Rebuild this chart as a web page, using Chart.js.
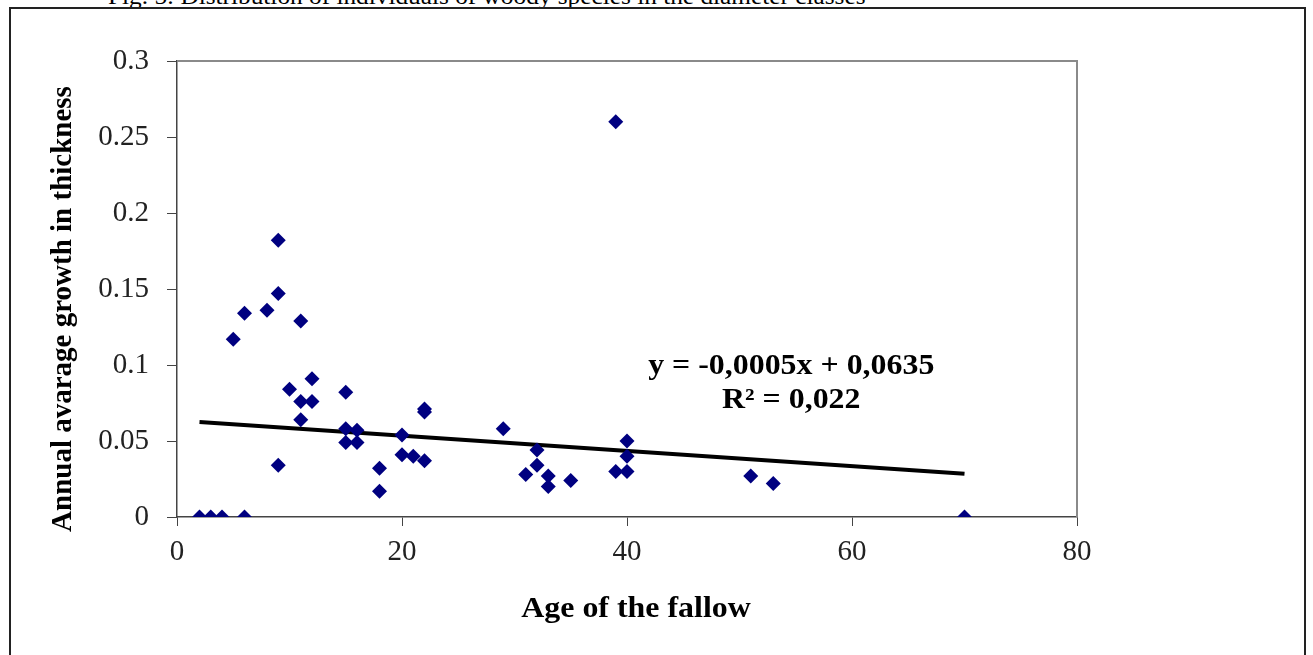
<!DOCTYPE html>
<html>
<head>
<meta charset="utf-8">
<script src="https://cdn.jsdelivr.net/npm/chart.js@4.4.1/dist/chart.umd.min.js"></script>
<style>
  html, body { margin: 0; padding: 0; background: #fff; }
  body { width: 1313px; height: 655px; position: relative; overflow: hidden; }
  #caption {
    position: absolute; left: 108px; top: -16px;
    font: 23px "Liberation Serif", "Times New Roman", serif; color: #000; white-space: nowrap;
    transform: scaleX(1.1); transform-origin: left top;
  }
  #frame {
    position: absolute; left: 9px; top: 7px; width: 1297px; height: 700px;
    border: 2px solid #222; box-sizing: border-box;
  }
  #wrap { position: absolute; left: 0; top: 0; width: 1313px; height: 655px; }
</style>
</head>
<body>
<div id="caption">Fig. 5: Distribution of individuals of woody species in the diameter classes</div>
<div id="frame"></div>
<div id="wrap"><canvas id="scatterChart" width="1313" height="655"></canvas></div>
<script>
// fallow age (years) and annual average growth in thickness
const ages = [
  2, 3, 4, 6, 5, 6, 8, 9, 9, 9, 10, 11, 11, 11, 12, 12,
  15, 15, 15, 16, 16, 18, 18, 20, 20, 21, 22, 22, 22,
  29, 31, 32, 32, 33, 33, 35, 39, 39, 40, 40, 40, 51, 53, 70,
];
const growth = [
  0, 0, 0, 0, 0.117, 0.134, 0.136, 0.182, 0.147, 0.034, 0.084, 0.129, 0.076, 0.064, 0.091, 0.076,
  0.082, 0.058, 0.049, 0.057, 0.049, 0.032, 0.017, 0.054, 0.041, 0.040, 0.069, 0.071, 0.037,
  0.058, 0.028, 0.044, 0.034, 0.027, 0.020, 0.024, 0.260, 0.030, 0.050, 0.040, 0.030, 0.027, 0.022, 0,
];
const yTickLabels = ["0", "0.05", "0.1", "0.15", "0.2", "0.25", "0.3"];
const xTickLabels = ["0", "20", "40", "60", "80"];
const xTitle = "Age of the fallow";
const yTitle = "Annual avarage growth in thickness";

// linear trend line (from the chart label)
const trendSlope = -0.0005;
const trendIntercept = 0.0635;
const trendLabel = ["y = -0,0005x + 0,0635", "R² = 0,022"];

const points = ages.map((a, i) => ({ x: a, y: growth[i] }));
const xMin = Math.min(...ages);
const xMax = Math.max(...ages);
const trendPoints = [xMin, xMax].map((a) => ({ x: a, y: trendSlope * a + trendIntercept }));

Chart.defaults.font.family = '"Liberation Serif", "Times New Roman", serif';
Chart.defaults.color = "#222";

const boldFont = 'bold 29px "Liberation Serif", "Times New Roman", serif';
const stretch = 1.1; // text in the picture is a bit wide

// draws text a little wider than the font, like the picture
function wideText(ctx, text, x, y) {
  ctx.save();
  ctx.translate(x, y);
  ctx.scale(stretch, 1);
  ctx.fillText(text, 0, 0);
  ctx.restore();
}

// gray frame round the plot area, axis titles and equation text
const plotFrame = {
  id: "plotFrame",
  beforeDatasetsDraw(chart) {
    const { ctx, chartArea: a } = chart;
    ctx.save();
    ctx.strokeStyle = "#8a8a8a";
    ctx.lineWidth = 2;
    ctx.beginPath();
    ctx.moveTo(a.left, a.top);
    ctx.lineTo(a.right, a.top);
    ctx.lineTo(a.right, a.bottom);
    ctx.stroke();
    ctx.restore();
  },
  afterDraw(chart) {
    const { ctx, scales, chartArea: a } = chart;
    ctx.save();
    ctx.font = boldFont;
    ctx.fillStyle = "#000";
    ctx.textAlign = "center";
    ctx.textBaseline = "middle";

    // trend line equation
    const cx = scales.x.getPixelForValue(54.6);
    const cy = scales.y.getPixelForValue(0.1);
    wideText(ctx, trendLabel[0], cx, cy + 2);
    wideText(ctx, trendLabel[1], cx, cy + 36);

    // x axis title
    wideText(ctx, xTitle, (a.left + a.right) / 2 + 9, a.bottom + 93);

    // y axis title
    ctx.translate(64, (a.top + a.bottom) / 2 + 20);
    ctx.rotate(-Math.PI / 2);
    ctx.fillText(yTitle, 0, 0);
    ctx.restore();
  },
};

const ctx = document.getElementById("scatterChart").getContext("2d");
const myChart = new Chart(ctx, {
  type: "scatter",
  data: {
    datasets: [
      {
        data: points,
        backgroundColor: "#000080",
        borderColor: "#000080",
        pointStyle: "rectRot",
        pointRadius: 7.5,
        pointBorderWidth: 0,
      },
      {
        type: "line",
        data: trendPoints,
        borderColor: "#000",
        borderWidth: 4,
        pointRadius: 0,
        fill: false,
      },
    ],
  },
  options: {
    responsive: false,
    animation: false,
    devicePixelRatio: 1,
    layout: {
      padding: { left: 40, right: 236, top: 61, bottom: 20 },
    },
    plugins: {
      legend: { display: false },
      tooltip: { enabled: false },
    },
    scales: {
      x: {
        type: "linear",
        min: 0,
        max: 80,
        ticks: {
          stepSize: 20,
          padding: 9,
          color: "#222",
          font: { size: 29 },
          callback: (v) => xTickLabels[v / 20],
        },
        grid: { drawOnChartArea: false, tickLength: 9, color: "#444" },
        border: { color: "#444", width: 1.5 },
        afterFit: (scale) => {
          scale.height = 118;
        },
      },
      y: {
        min: 0,
        max: 0.3,
        ticks: {
          stepSize: 0.05,
          padding: 18,
          color: "#222",
          font: { size: 29 },
          callback: (v) => yTickLabels[Math.round(v / 0.05)],
        },
        grid: { drawOnChartArea: false, tickLength: 10, color: "#444" },
        border: { color: "#444", width: 1.5 },
        afterFit: (scale) => {
          scale.width = 137;
        },
      },
    },
  },
  plugins: [plotFrame],
});
</script>
</body>
</html>
